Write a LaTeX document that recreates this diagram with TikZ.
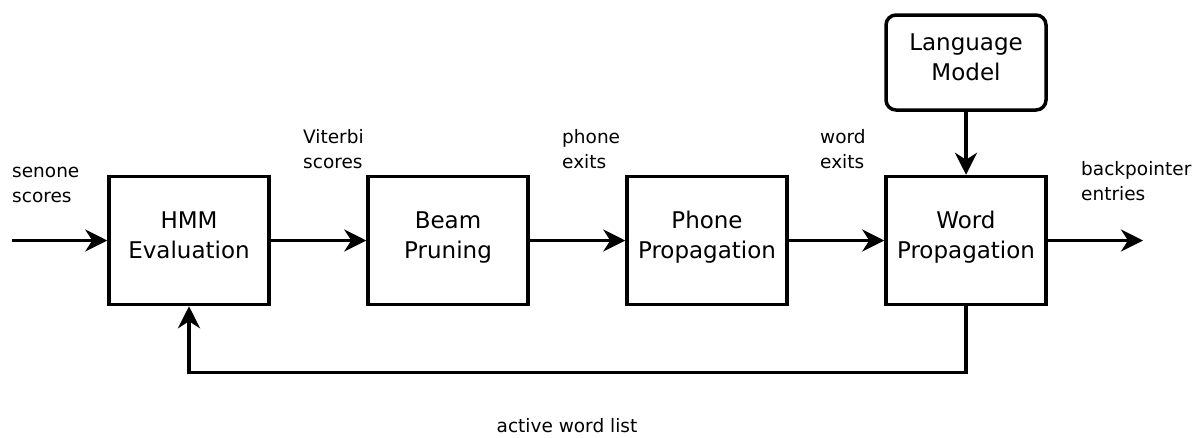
\documentclass[tikz,border=0pt]{standalone}
\usepackage{fontspec}
\setmainfont{DejaVu Sans}
\usetikzlibrary{arrows.meta}
\newcommand\boxtext[2]{\begin{tabular}{@{}c@{}}#1\\#2\rule[-16pt]{0pt}{16pt}\end{tabular}}
\newcommand\lbltext[2]{\begin{tabular}[t]{@{}l@{}}#1\\#2\end{tabular}}
\begin{document}
\begin{tikzpicture}[x=1pt,y=-1pt,
  blk/.style={draw, line width=3.5pt, minimum width=160pt, minimum height=128pt,
    inner sep=0pt, font=\fontsize{23}{30}\selectfont},
  lmblk/.style={blk, rounded corners=10pt, minimum height=95pt},
  lbl/.style={anchor=base west, inner sep=0pt, font=\fontsize{18.5}{25}\selectfont},
  conn/.style={line width=3.5pt, -{Stealth[length=22pt,width=22pt,inset=7pt]}}
]
\useasboundingbox (0,0) rectangle (1193,437);
\node[blk] (hmm) at (189,240.5) {\boxtext{HMM}{Evaluation}};
\node[blk] (beam) at (448,240.5) {\boxtext{Beam}{Pruning}};
\node[blk] (phone) at (707,240.5) {\boxtext{Phone}{Propagation}};
\node[blk] (word) at (966,240.5) {\boxtext{Word}{Propagation}};
\node[lmblk] (lm) at (966,62.5) {\boxtext{Language}{Model}};
\coordinate (in) at (12,240.5);
\coordinate (out) at (1143,240.5);
\draw[conn] (in) -- (hmm.west);
\draw[conn] (hmm.east) -- (beam.west);
\draw[conn] (beam.east) -- (phone.west);
\draw[conn] (phone.east) -- (word.west);
\draw[conn] (word.east) -- (out);
\draw[conn] (lm.south) -- (word.north);
\draw[conn] (word.south) -- ++(0,66) -| (hmm.south);
\node[lbl] (l1) at (12,177) {\lbltext{senone}{scores}};
\node[lbl] (l2) at (303,143) {\lbltext{Viterbi}{scores}};
\node[lbl] (l3) at (562,143) {\lbltext{phone}{exits}};
\node[lbl] (l4) at (820,143) {\lbltext{word}{exits}};
\node[lbl] (l5) at (1081,175) {\lbltext{backpointer}{entries}};
\node[lbl, anchor=base] (l6) at (567,432) {active word list};
\end{tikzpicture}
\end{document}
